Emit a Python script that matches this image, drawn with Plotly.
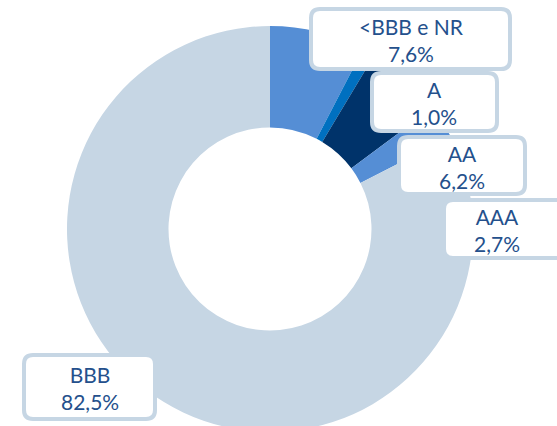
import plotly.graph_objects as go

# Data
categories = ["<BBB e NR", "A", "AA", "AAA", "BBB"]
shares = [7.6, 1.0, 6.2, 2.7, 82.5]

# Styles
slice_colors = ["#558ED5", "#0070C0", "#00336A", "#558ED5", "#C6D6E4"]
text_color = "#24508C"
box_color = "#C6D6E4"
W, H = 557, 432  # page window is 426 high; pie is cut at the bottom like the reference

# label boxes in pixels (x0, y0, x1, y1) - outer edges
boxes = [
    (309, 7, 512, 71),
    (370, 71, 499, 133),
    (397, 135, 527, 196),
    (442, 198, 575, 260),
    (22, 353, 157, 421),
]
text_x = [411, 434, 462, 497, 90]


def px(x):
    return x / W


def py(y):
    return 1 - y / H


def rounded(x0, y0, x1, y1, r=9):
    pts = [
        f"M {px(x0 + r)},{py(y0)}",
        f"L {px(x1 - r)},{py(y0)}",
        f"Q {px(x1)},{py(y0)} {px(x1)},{py(y0 + r)}",
        f"L {px(x1)},{py(y1 - r)}",
        f"Q {px(x1)},{py(y1)} {px(x1 - r)},{py(y1)}",
        f"L {px(x0 + r)},{py(y1)}",
        f"Q {px(x0)},{py(y1)} {px(x0)},{py(y1 - r)}",
        f"L {px(x0)},{py(y0 + r)}",
        f"Q {px(x0)},{py(y0)} {px(x0 + r)},{py(y0)}",
        "Z",
    ]
    return " ".join(pts)


fig = go.Figure(
    go.Pie(
        labels=categories,
        values=shares,
        hole=0.5,
        sort=False,
        direction="clockwise",
        rotation=0,
        marker=dict(colors=slice_colors, line=dict(width=0)),
        textinfo="none",
        hoverinfo="label+percent",
        domain=dict(x=[px(67), px(473)], y=[0, py(26)]),
        showlegend=False,
    )
)

shapes = []
annotations = []
for (x0, y0, x1, y1), tx, cat, val in zip(boxes, text_x, categories, shares):
    b = 2
    shapes.append(
        dict(
            type="path",
            xref="paper",
            yref="paper",
            path=rounded(x0 + b, y0 + b, x1 - b, y1 - b),
            fillcolor="white",
            line=dict(color=box_color, width=4),
            layer="above",
        )
    )
    label = cat.replace("<", "&lt;")
    annotations.append(
        dict(
            xref="paper",
            yref="paper",
            x=px(tx),
            y=py((y0 + y1) / 2 + 1),
            text=f"{label}<br>{val:.1f}%".replace(".", ","),
            showarrow=False,
            xanchor="center",
            yanchor="middle",
            align="center",
            font=dict(family="Lato, Open Sans, sans-serif", size=21, color=text_color),
        )
    )

fig.update_layout(
    width=W,
    height=H,
    margin=dict(l=0, r=0, t=0, b=0),
    paper_bgcolor="white",
    plot_bgcolor="white",
    shapes=shapes,
    annotations=annotations,
)

fig.write_html(
    "out.html",
    config={"displayModeBar": False},
    post_script="document.body.style.margin='0px';document.body.style.overflow='hidden';",
)
